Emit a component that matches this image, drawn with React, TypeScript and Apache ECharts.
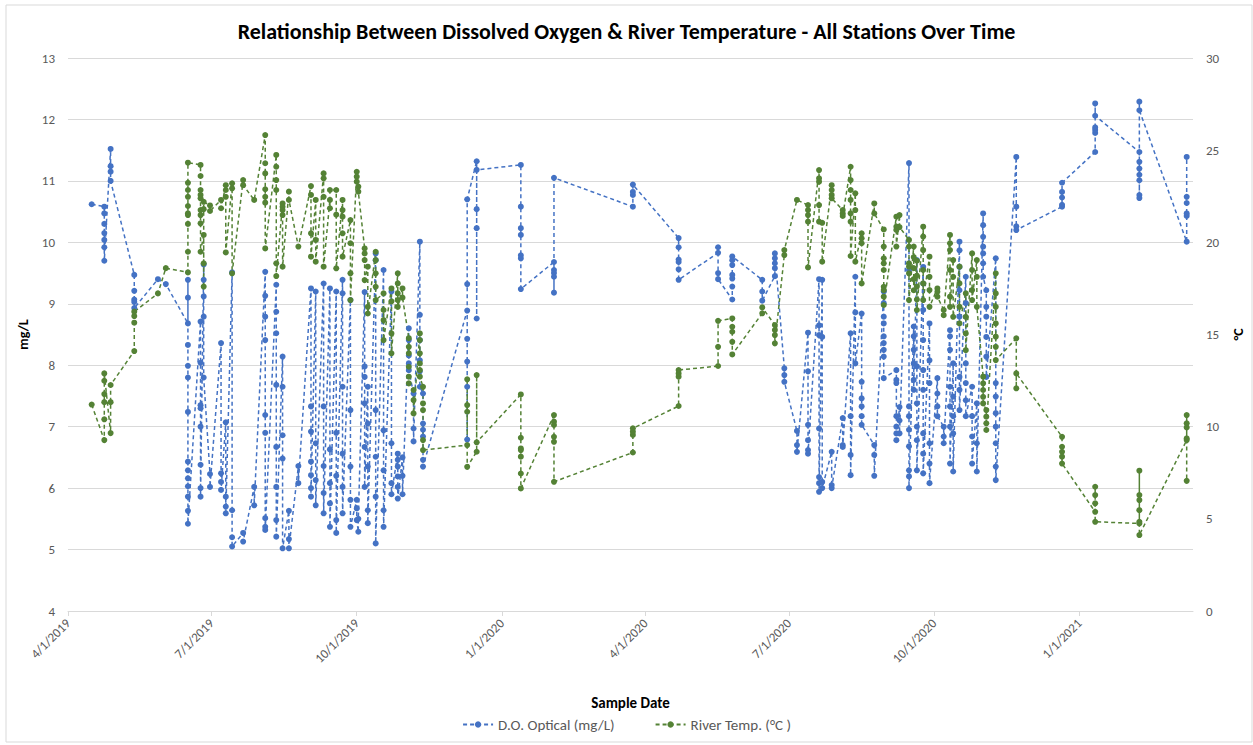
import React, { useEffect, useRef } from "react";
import * as echarts from "echarts";

const sampleDates = [
  "2019-04-16","2019-04-24","2019-04-28","2019-05-13","2019-05-28","2019-06-02","2019-06-16","2019-06-24","2019-06-26","2019-06-30",
  "2019-07-07","2019-07-10","2019-07-14","2019-07-21","2019-07-28","2019-08-04","2019-08-11","2019-08-15","2019-08-19","2019-08-25",
  "2019-09-02","2019-09-05","2019-09-10","2019-09-14","2019-09-18","2019-09-22","2019-09-27","2019-10-01","2019-10-02","2019-10-06",
  "2019-10-08","2019-10-13","2019-10-18","2019-10-23","2019-10-27","2019-10-30","2019-11-03","2019-11-06","2019-11-10","2019-11-12",
  "2019-12-10","2019-12-16","2020-01-13","2020-02-03","2020-03-24","2020-04-22","2020-05-17","2020-05-26","2020-06-14","2020-06-22",
  "2020-06-28","2020-07-06","2020-07-13","2020-07-20","2020-07-22","2020-07-28","2020-08-04","2020-08-09","2020-08-12","2020-08-16",
  "2020-08-24","2020-08-30","2020-09-07","2020-09-09","2020-09-15","2020-09-18","2020-09-20","2020-09-24","2020-09-28","2020-10-03",
  "2020-10-07","2020-10-11","2020-10-13","2020-10-17","2020-10-21","2020-10-25","2020-10-28","2020-11-01","2020-11-03","2020-11-09",
  "2020-11-22","2020-12-21","2021-01-11","2021-02-08","2021-03-10"
];

// D.O. Optical (mg/L) readings per sample date (all stations)
const doValues: number[][] = [
  [10.62],
  [10.58, 10.47, 10.3, 10.15, 10.04, 9.92, 9.7],
  [11.52, 11.24, 11.15, 11.0],
  [9.47, 9.21, 9.07, 9.03, 8.93],
  [9.4],
  [9.32],
  [8.68, 9.39, 9.1, 8.33, 7.99, 7.8, 7.24, 6.43, 6.29, 6.16, 6.03, 5.86, 5.63, 5.42],
  [8.71, 8.04, 7.35, 7.3, 7.0, 6.38, 6.0, 5.86],
  [9.64, 9.39, 9.12, 8.79, 7.8],
  [6.23, 6.02],
  [8.36, 6.24, 6.1, 5.97],
  [7.07, 5.86, 5.7, 5.59],
  [9.51, 5.64, 5.2, 5.05],
  [5.27, 5.13],
  [6.02, 5.72],
  [9.52, 9.13, 8.79, 8.41, 7.19, 6.9, 5.51, 5.37, 5.32],
  [9.31, 8.87, 8.52, 7.68, 6.67, 6.02, 5.48, 5.21],
  [8.14, 7.65, 6.86, 6.48, 5.02],
  [5.63, 5.17, 5.02],
  [6.36, 6.08],
  [9.25, 7.33, 6.92, 6.43, 6.21, 6.0, 5.86],
  [9.2, 6.73, 6.13, 5.72],
  [9.33, 7.33, 6.36, 5.92, 5.59],
  [9.25, 6.63, 6.08, 5.75, 5.37],
  [9.2, 6.9, 6.2, 5.48, 5.27],
  [9.39, 9.17, 7.65, 6.56, 6.02, 5.59],
  [9.06, 7.27, 6.35, 5.81, 5.37],
  [5.81, 5.67, 5.48],
  [5.29, 5.5],
  [9.19, 7.98, 7.81, 7.38, 6.67, 6.02],
  [7.65, 7.05, 6.35, 5.64, 5.43],
  [9.82, 9.71, 7.27, 6.51, 5.86, 5.1],
  [9.55, 6.94, 6.29, 5.64, 5.37],
  [9.2, 6.73, 6.08, 5.9],
  [6.56, 6.46, 6.35, 6.19, 6.02, 5.83],
  [6.5, 6.2, 5.9],
  [8.6, 8.41, 8.16, 8.03, 7.92],
  [7.54, 6.97, 6.76],
  [10.01, 8.82, 8.41, 8.08, 7.9, 7.65],
  [7.54, 7.05, 6.95, 6.84, 6.46, 6.35],
  [8.89, 8.43, 8.06, 7.65, 6.79, 9.32, 10.7],
  [11.32, 8.76, 10.23, 10.54, 11.18],
  [11.26, 10.58, 10.23, 10.12, 9.79, 9.74, 9.24],
  [9.68, 9.55, 9.5, 9.44, 9.18, 11.05],
  [10.58, 10.77, 10.82, 10.94],
  [10.07, 9.92, 9.72, 9.68, 9.56, 9.39],
  [9.83, 9.92, 9.5, 9.4],
  [9.07, 9.28, 9.41, 9.47, 9.63, 9.71, 9.77],
  [9.39, 9.2, 9.05],
  [9.45, 9.58, 9.66, 9.74, 9.82],
  [7.95, 7.84, 7.73],
  [6.93, 6.7, 6.59],
  [8.53, 7.9, 7.03, 6.78, 6.62, 6.56],
  [9.4, 8.65, 8.49, 6.97, 6.18, 6.08, 5.94],
  [9.39, 8.46, 6.1, 6.0],
  [6.59, 6.05, 6.0],
  [7.14, 6.7, 6.67],
  [8.52, 7.17, 6.54, 6.21],
  [9.44, 8.86, 8.03],
  [8.84, 7.73, 7.46, 7.33, 7.17, 7.03],
  [6.7, 6.54, 6.2],
  [9.2, 9.01, 8.79, 8.68, 8.47, 8.36, 8.25, 8.14, 7.79],
  [7.92, 7.76, 7.71, 7.17, 7.0, 6.89, 6.78],
  [7.32, 7.1, 6.89],
  [11.29, 9.55, 7.33, 7.17, 6.95, 6.68, 6.29, 6.19, 6.0],
  [8.63, 8.47, 8.25, 8.03, 7.76, 7.6],
  [9.71, 7.98, 7.38, 7.0, 6.78, 6.29],
  [9.6, 9.33, 8.9, 8.41, 7.92, 7.6, 6.89, 6.56, 6.24],
  [8.68, 8.08, 7.71, 6.73, 6.4, 6.08],
  [7.79, 7.54, 7.33, 7.17],
  [7.0, 6.84, 6.73],
  [8.57, 8.47, 8.25, 7.65, 7.33, 7.0, 6.4],
  [8.03, 7.49, 7.17, 6.89, 6.27],
  [10.01, 9.87, 9.6, 9.22, 8.79, 7.81, 7.6, 7.27],
  [9.44, 9.01, 8.03, 7.71, 7.43, 7.17],
  [7.65, 7.17, 6.84, 6.4],
  [7.38, 6.73, 6.27],
  [10.47, 10.28, 10.09, 9.93, 9.82, 9.66, 9.44],
  [9.22, 8.95, 8.79, 8.46, 8.14, 7.81],
  [9.74, 7.71, 7.49, 7.22, 7.0, 6.73, 6.35, 6.13],
  [11.39, 10.58, 10.26, 10.2],
  [10.58, 10.61, 10.73, 10.82, 10.97],
  [11.47, 11.78, 11.83, 11.87, 12.26, 12.06],
  [11.47, 11.31, 11.2, 11.1, 11.01, 10.77, 10.72, 12.29, 12.15],
  [10.01, 10.43, 10.47, 10.64, 10.74, 11.39]
];

// River temperature (°C) readings per sample date (all stations)
const tempValues: number[][] = [
  [11.2],
  [9.27, 10.4, 11.33, 11.77, 12.49, 12.89],
  [9.65, 11.33, 12.26],
  [14.1, 15.64, 16.0, 16.24],
  [17.23],
  [18.6],
  [18.37, 19.49, 21.0, 21.48, 21.57, 21.97, 22.47, 22.84, 23.23, 24.32],
  [24.2, 23.6, 22.84, 22.57, 22.39, 21.75, 21.48, 21.03, 19.49],
  [20.4, 18.86, 17.6, 21.8, 22.2],
  [22.0, 21.7],
  [22.3, 21.85],
  [23.1, 22.84, 22.47, 19.45],
  [23.2, 22.93, 18.32],
  [23.38, 23.1],
  [22.3],
  [25.82, 24.29, 23.74, 22.88, 22.47, 22.15, 19.67],
  [24.74, 24.1, 23.38, 22.84, 18.86, 18.17],
  [22.11, 21.93, 21.75, 21.48, 18.68],
  [22.75, 22.3],
  [19.77],
  [23.05, 22.57, 20.49, 19.22],
  [22.3, 20.13, 18.95],
  [23.74, 23.47, 22.47, 18.68],
  [22.3, 21.85, 22.84],
  [22.84, 21.5, 18.59],
  [22.3, 21.75, 21.39, 20.49, 19.22],
  [21.21, 19.95, 18.32, 16.87],
  [23.83, 23.56, 23.29],
  [23.02, 22.75],
  [19.67, 19.4, 19.04, 17.95],
  [18.68, 16.5, 16.14],
  [19.49, 19.04, 18.32, 17.59, 16.87],
  [17.23, 16.33, 15.78, 14.7],
  [17.5, 16.8, 15.06, 13.98],
  [18.32, 17.77, 17.23, 16.87, 16.5],
  [17.5, 17.0],
  [14.8, 14.33, 13.98, 13.25, 12.71, 12.35],
  [11.99, 11.44, 10.72],
  [15.06, 14.7, 13.98, 13.43, 13.07, 12.71],
  [12.16, 11.26, 10.9, 9.27, 8.73],
  [9.0, 12.57, 11.17, 10.81, 7.82],
  [8.64, 12.8, 9.15],
  [11.75, 9.4, 8.82, 8.73, 8.37, 7.46, 6.65],
  [10.63, 10.27, 10.09, 9.45, 9.18, 7.01],
  [8.6, 9.55, 9.73, 9.91],
  [11.12, 12.71, 12.89, 13.07],
  [13.29, 14.33, 15.74],
  [15.87, 15.42, 15.15, 14.6, 13.92],
  [16.15, 16.47],
  [15.51, 15.24, 14.97, 14.52],
  [19.31, 19.58],
  [22.3],
  [22.02, 21.75, 21.48, 21.12, 18.64],
  [23.92, 23.47, 23.29, 22.02, 21.12],
  [21.06, 18.95],
  [23.1, 22.84, 22.57, 22.39],
  [21.75, 21.57, 21.43],
  [24.1, 23.38, 22.84, 22.3, 21.57, 21.12, 19.26],
  [22.66, 21.75, 18.95],
  [20.49, 20.22, 19.95, 17.77],
  [22.11, 21.57],
  [20.7, 19.77, 19.13, 18.86, 18.5, 17.59, 17.41, 17.05, 16.6],
  [21.39, 20.85, 20.67, 19.77],
  [21.48, 20.83],
  [20.13, 19.77, 18.86, 18.68, 18.32, 16.87],
  [19.77, 19.2, 18.6, 18.0, 17.4],
  [19.0, 18.2, 17.6, 16.9, 16.33],
  [20.85, 20.31, 19.58, 18.5, 17.77, 16.87],
  [19.22, 18.13, 17.41, 16.5],
  [17.5, 17.32, 17.05],
  [16.33, 16.05],
  [20.4, 19.95, 19.58, 18.5, 17.05, 16.5],
  [19.04, 18.13, 15.96],
  [18.68, 17.77, 16.5, 15.6],
  [17.23, 15.96, 15.06, 14.15],
  [19.4, 18.5, 17.41, 16.87],
  [19.04, 18.13, 16.5],
  [12.71, 12.35, 11.99, 11.62, 11.26],
  [10.9, 10.54, 10.18, 9.82],
  [18.32, 17.23, 16.5, 15.6, 14.88, 14.33, 13.61],
  [14.79, 12.08, 12.89],
  [9.45, 8.91, 8.64, 8.37, 8.0],
  [5.38, 6.74, 6.29, 5.84, 4.84],
  [4.75, 7.61, 6.29, 6.02, 5.47, 4.84, 4.12],
  [9.27, 9.36, 9.96, 10.18, 10.63, 7.06]
];

const xTickDates = ["2019-04-01", "2019-07-01", "2019-10-01", "2020-01-01", "2020-04-01", "2020-07-01", "2020-10-01", "2021-01-01"];
const xTickLabels = ["4/1/2019", "7/1/2019", "10/1/2019", "1/1/2020", "4/1/2020", "7/1/2020", "10/1/2020", "1/1/2021"];
const xMinDate = "2019-04-01";
const xMaxDate = "2021-03-14";

const seriesNames = ["D.O. Optical (mg/L)", "River Temp. (°C )"];
const seriesColors = ["#4472C4", "#548235"];

const FONT = "Carlito, Calibri, 'Liberation Sans Narrow', Lato, 'Open Sans', sans-serif";

function toTime(s: string): number {
  const [y, m, d] = s.split("-").map(Number);
  return Date.UTC(y, m - 1, d);
}

function flatten(values: number[][]): [number, number][] {
  const out: [number, number][] = [];
  values.forEach((list, i) => {
    const t = toTime(sampleDates[i]);
    list.forEach((v) => out.push([t, v]));
  });
  return out;
}

export default function App() {
  const ref = useRef<HTMLDivElement>(null);

  useEffect(() => {
    if (!ref.current) return;
    const chart = echarts.init(ref.current, undefined, { renderer: "svg" });
    const tickTimes = xTickDates.map(toTime);

    const mkSeries = (idx: number, data: [number, number][]) => ({
      name: seriesNames[idx],
      type: "line",
      yAxisIndex: idx,
      data,
      symbol: "circle",
      symbolSize: 6,
      showSymbol: true,
      color: seriesColors[idx],
      itemStyle: { color: seriesColors[idx] },
      lineStyle: { color: seriesColors[idx], width: 1.5, type: [4, 3] },
      emphasis: { disabled: true },
    });

    chart.setOption({
      animation: false,
      backgroundColor: "#ffffff",
      textStyle: { fontFamily: FONT },
      title: {
        text: "Relationship Between Dissolved Oxygen & River Temperature - All Stations Over Time",
        left: "center",
        top: 15,
        textStyle: { fontFamily: FONT, fontSize: 22, fontWeight: "bold", color: "#000000" },
      },
      graphic: [
        {
          type: "rect",
          shape: { x: 6, y: 5, width: 1246, height: 737 },
          style: { fill: "none", stroke: "#d9d9d9", lineWidth: 1 },
          silent: true,
        },
      ],
      legend: {
        bottom: 8,
        left: "center",
        itemGap: 40,
        itemWidth: 30,
        itemHeight: 8,
        textStyle: { fontFamily: FONT, fontSize: 15, color: "#595959" },
        data: seriesNames,
      },
      grid: { left: 68, right: 60, top: 58, bottom: 134, containLabel: false },
      xAxis: {
        type: "value",
        min: toTime(xMinDate),
        max: toTime(xMaxDate),
        name: "Sample Date",
        nameLocation: "middle",
        nameGap: 84,
        nameTextStyle: { fontFamily: FONT, fontSize: 15, fontWeight: "bold", color: "#000000" },
        axisLine: { show: true, lineStyle: { color: "#d9d9d9", width: 1 } },
        axisTick: { show: true, length: 5, lineStyle: { color: "#d9d9d9" }, customValues: tickTimes },
        axisLabel: {
          customValues: tickTimes,
          rotate: 45,
          margin: 10,
          color: "#595959",
          fontSize: 13,
          fontFamily: FONT,
          formatter: (v: number) => {
            const i = tickTimes.indexOf(v);
            return i >= 0 ? xTickLabels[i] : "";
          },
        },
        splitLine: { show: false },
      },
      yAxis: [
        {
          type: "value",
          min: 4,
          max: 13,
          interval: 1,
          name: "mg/L",
          nameLocation: "middle",
          nameGap: 33,
          nameTextStyle: { fontFamily: FONT, fontSize: 14, fontWeight: "bold", color: "#000000" },
          axisLine: { show: false },
          axisTick: { show: false },
          axisLabel: { color: "#595959", fontSize: 13, fontFamily: FONT, margin: 13 },
          splitLine: { show: true, lineStyle: { color: "#d9d9d9", width: 1 } },
        },
        {
          type: "value",
          min: 0,
          max: 30,
          interval: 5,
          name: "°C",
          nameLocation: "middle",
          nameGap: 38,
          nameTextStyle: { fontFamily: FONT, fontSize: 14, fontWeight: "bold", color: "#000000" },
          axisLine: { show: false },
          axisTick: { show: false },
          axisLabel: { color: "#595959", fontSize: 13, fontFamily: FONT, margin: 13 },
          splitLine: { show: false },
        },
      ],
      series: [mkSeries(0, flatten(doValues)), mkSeries(1, flatten(tempValues))],
    });

    return () => chart.dispose();
  }, []);

  return (
    <div
      ref={ref}
      style={{ position: "fixed", left: 0, top: 0, width: 1253, height: 745, background: "#fff" }}
    />
  );
}
